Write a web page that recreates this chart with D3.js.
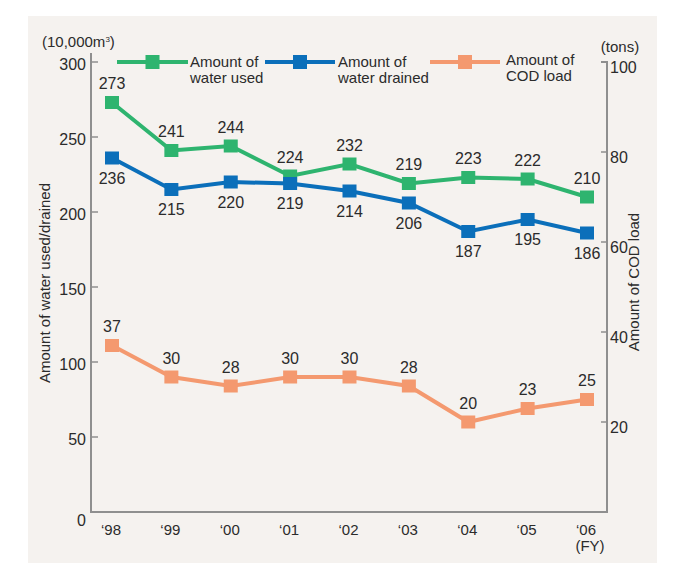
<!DOCTYPE html>
<html>
<head>
<meta charset="utf-8">
<script src="https://cdn.jsdelivr.net/npm/d3@7"></script>
<style>
  body { margin: 0; background: #fff; }
  text { font-family: "Liberation Sans", Arial, sans-serif; fill: #2b2b2b; }
  .narrow { font-family: "Liberation Sans Narrow", "Liberation Sans", Arial, sans-serif; }
</style>
</head>
<body>
<svg id="chart"></svg>
<script>
// Data
const years = ["\u201898", "\u201899", "\u201800", "\u201801", "\u201802", "\u201803", "\u201804", "\u201805", "\u201806"];
const waterUsed = [273, 241, 244, 224, 232, 219, 223, 222, 210];
const waterDrained = [236, 215, 220, 219, 214, 206, 187, 195, 186];
const codLoad = [37, 30, 28, 30, 30, 28, 20, 23, 25];
const leftTicks = [0, 50, 100, 150, 200, 250, 300];
const rightTicks = [20, 40, 60, 80, 100];

const width = 684, height = 563;
const plot = { left: 91, right: 607, top: 62, bottom: 512 };

const svg = d3.select("#chart")
    .attr("width", width)
    .attr("height", height);

// Panel background
svg.append("rect")
    .attr("x", 28).attr("y", 16)
    .attr("width", 629).attr("height", 547)
    .attr("fill", "#f5f2ef");

// Scales
const x = d3.scalePoint()
    .domain(years)
    .range([112, 587]);

const yLeft = d3.scaleLinear()
    .domain([0, 300])
    .range([plot.bottom, plot.top]);

const yRight = d3.scaleLinear()
    .domain([0, 100])
    .range([plot.bottom, plot.top]);

const axisColor = "#8f8f8f";

// Frame: left axis, bottom, right axis
svg.append("path")
    .attr("d", `M${plot.left},53V${plot.bottom}H${plot.right}V${plot.top}H${plot.right - 6}`)
    .attr("fill", "none")
    .attr("stroke", axisColor)
    .attr("stroke-width", 2);

// Left axis ticks (pointing inward)
const leftAxis = svg.append("g").attr("class", "narrow");
leftAxis.selectAll("line")
    .data(leftTicks.filter(d => d > 0))
  .enter().append("line")
    .attr("x1", plot.left).attr("x2", plot.left + 7)
    .attr("y1", d => yLeft(d)).attr("y2", d => yLeft(d))
    .attr("stroke", axisColor).attr("stroke-width", 1.5);
leftAxis.selectAll("text")
    .data(leftTicks)
  .enter().append("text")
    .attr("x", 86)
    .attr("y", d => yLeft(d) + (d === 0 ? 8 : 2))
    .attr("dy", "0.35em")
    .attr("text-anchor", "end")
    .attr("font-size", 16)
    .text(d => d);

// Right axis ticks (pointing inward)
const rightAxis = svg.append("g").attr("class", "narrow");
rightAxis.selectAll("line")
    .data(rightTicks.filter(d => d < 100))
  .enter().append("line")
    .attr("x1", plot.right - 6).attr("x2", plot.right)
    .attr("y1", d => yRight(d)).attr("y2", d => yRight(d))
    .attr("stroke", axisColor).attr("stroke-width", 1.5);
rightAxis.selectAll("text")
    .data(rightTicks)
  .enter().append("text")
    .attr("x", 610)
    .attr("y", d => yRight(d) + 5)
    .attr("dy", "0.35em")
    .attr("font-size", 16)
    .text(d => d);

// X labels
svg.append("g").attr("class", "narrow")
    .selectAll("text")
    .data(years)
  .enter().append("text")
    .attr("x", d => x(d) - 1)
    .attr("y", 530)
    .attr("dy", "0.35em")
    .attr("text-anchor", "middle")
    .attr("font-size", 15)
    .text(d => d);

svg.append("text").attr("class", "narrow")
    .attr("x", 590).attr("y", 546).attr("dy", "0.35em")
    .attr("text-anchor", "middle").attr("font-size", 15)
    .text("(FY)");

// Units
svg.append("text").attr("class", "narrow")
    .attr("x", 42).attr("y", 42).attr("dy", "0.35em")
    .attr("font-size", 15)
    .html("(10,000m<tspan font-size='8' dy='-5'>3</tspan><tspan dy='5'>)</tspan>");

svg.append("text").attr("class", "narrow")
    .attr("x", 620).attr("y", 47).attr("dy", "0.35em")
    .attr("text-anchor", "middle").attr("font-size", 15)
    .text("(tons)");

// Axis titles
svg.append("text")
    .attr("transform", "translate(45,283) rotate(-90)")
    .attr("dy", "0.35em")
    .attr("text-anchor", "middle")
    .attr("font-size", 15)
    .text("Amount of water used/drained");

svg.append("text")
    .attr("transform", "translate(634,282) rotate(-90)")
    .attr("dy", "0.35em")
    .attr("text-anchor", "middle")
    .attr("font-size", 15)
    .text("Amount of COD load");

// Series
const series = [
    { name: ["Amount of", "water used"], values: waterUsed, y: yLeft, color: "#2eb46f", labelDy: -19,
      legend: { x1: 117, x2: 188, text: 190, y: 62 } },
    { name: ["Amount of", "water drained"], values: waterDrained, y: yLeft, color: "#0b6fba", labelDy: 20,
      legend: { x1: 265, x2: 335, text: 338, y: 62 } },
    { name: ["Amount of", "COD load"], values: codLoad, y: yRight, color: "#f4996f", labelDy: -19,
      legend: { x1: 430, x2: 500, text: 506, y: 60 } }
];

const marker = 14;

series.forEach(s => {
    const pts = years.map((yr, i) => ({ yr, v: s.values[i] }));
    const line = d3.line()
        .x(d => x(d.yr))
        .y(d => s.y(d.v));

    svg.append("path")
        .datum(pts)
        .attr("d", line)
        .attr("fill", "none")
        .attr("stroke", s.color)
        .attr("stroke-width", 4);

    svg.append("g").selectAll("rect")
        .data(pts)
      .enter().append("rect")
        .attr("x", d => x(d.yr) - marker / 2)
        .attr("y", d => s.y(d.v) - 6.5)
        .attr("width", marker)
        .attr("height", 13)
        .attr("fill", s.color);

    svg.append("g").selectAll("text")
        .data(pts)
      .enter().append("text")
        .attr("x", d => x(d.yr))
        .attr("y", d => s.y(d.v) + s.labelDy)
        .attr("dy", "0.35em")
        .attr("text-anchor", "middle")
        .attr("font-size", 16)
        .text(d => d.v);

    // Legend
    const lg = svg.append("g");
    lg.append("line")
        .attr("x1", s.legend.x1).attr("x2", s.legend.x2)
        .attr("y1", 62).attr("y2", 62)
        .attr("stroke", s.color).attr("stroke-width", 4);
    lg.append("rect")
        .attr("x", (s.legend.x1 + s.legend.x2) / 2 - marker / 2)
        .attr("y", 62 - 7)
        .attr("width", marker).attr("height", 14)
        .attr("fill", s.color);
    lg.append("text").attr("class", "narrow")
        .attr("x", s.legend.text)
        .attr("y", s.legend.y)
        .attr("dy", "0.35em")
        .attr("font-size", 15)
        .text(s.name[0]);
    lg.append("text").attr("class", "narrow")
        .attr("x", s.legend.text)
        .attr("y", s.legend.y + 16)
        .attr("dy", "0.35em")
        .attr("font-size", 15)
        .text(s.name[1]);
});
</script>
</body>
</html>
